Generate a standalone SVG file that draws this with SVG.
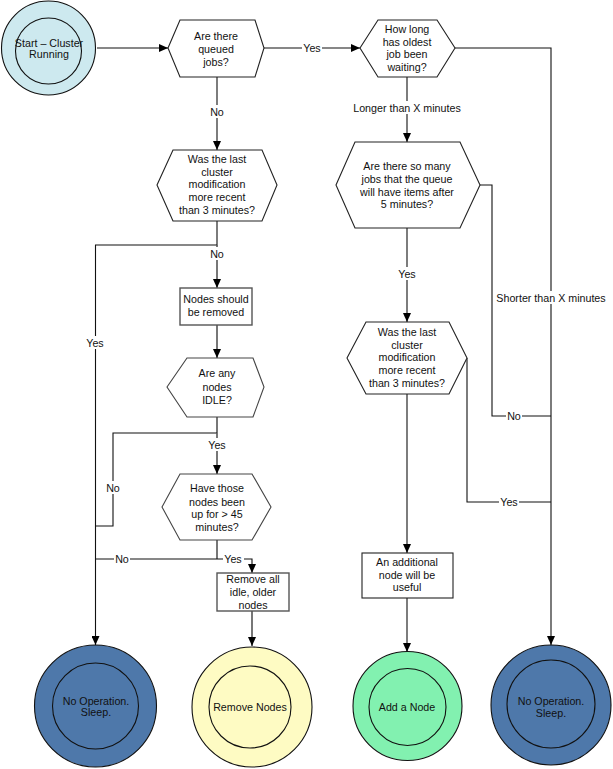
<svg xmlns="http://www.w3.org/2000/svg" width="613" height="769" viewBox="0 0 613 769">
<defs>
<marker id="arr" markerWidth="9" markerHeight="8" refX="9" refY="4" orient="auto" markerUnits="userSpaceOnUse">
<path d="M0,0 L9,4 L0,8 Z" fill="#000"/>
</marker>
<style>
text{font-family:"Liberation Sans",Arial,sans-serif;font-size:10.7px;fill:#111;text-anchor:middle}
.hex,.box{fill:#fff;stroke:#222;stroke-width:1.1}
.g{stroke:#555;stroke-width:1.6}
.c{fill:none;stroke:#111;stroke-width:1.1}
.c.g{stroke:#555;stroke-width:1.6}
.lb{fill:#fff}
.o{stroke:#111;stroke-width:1.1}
</style>
</defs>
<rect width="613" height="769" fill="#fff"/>

<g id="connectors">
<line class="c" x1="97" y1="48" x2="168" y2="48" marker-end="url(#arr)"/>
<line class="c" x1="264" y1="48" x2="360" y2="48" marker-end="url(#arr)"/>
<line class="c" x1="217" y1="77" x2="217" y2="150" marker-end="url(#arr)"/>
<line class="c" x1="407" y1="77" x2="407" y2="142" marker-end="url(#arr)"/>
<path class="c" d="M455,48 H551 V645" marker-end="url(#arr)"/>
<path class="c" d="M480,185 H492 V416 H551"/>
<line class="c" x1="407" y1="228" x2="407" y2="322" marker-end="url(#arr)"/>
<path class="c" d="M467,358 V502 H551"/>
<line class="c" x1="407" y1="394" x2="407" y2="553" marker-end="url(#arr)"/>
<line class="c" x1="407" y1="598" x2="407" y2="652" marker-end="url(#arr)"/>
<path class="c" d="M217,221 V245 H95.5 V645" marker-end="url(#arr)"/>
<line class="c g" x1="217" y1="245" x2="217" y2="288" marker-end="url(#arr)"/>
<line class="c g" x1="217" y1="325" x2="217" y2="358" marker-end="url(#arr)"/>
<path class="c g" d="M217,417 V433"/>
<path class="c" d="M217,433 H113 V526 H95.5"/>
<line class="c g" x1="217" y1="433" x2="217" y2="474" marker-end="url(#arr)"/>
<path class="c g" d="M217,540 V559"/>
<path class="c" d="M217,559 H95.5"/>
<path class="c" d="M217,559 H252 V573" marker-end="url(#arr)"/>
<line class="c g" x1="252" y1="611" x2="252" y2="646" marker-end="url(#arr)"/>

<rect class="lb" x="302" y="42" width="20" height="12"/><text x="312" y="52">Yes</text>
<rect class="lb" x="208" y="105" width="18" height="13"/><text x="217" y="116">No</text>
<rect class="lb" x="352" y="101" width="110" height="13"/><text x="407" y="112">Longer than X minutes</text>
<rect class="lb" x="495" y="291" width="111" height="13"/><text x="551" y="302">Shorter than X minutes</text>
<rect class="lb" x="506" y="410" width="16" height="12"/><text x="514" y="420">No</text>
<rect class="lb" x="397" y="267" width="20" height="13"/><text x="407" y="278">Yes</text>
<rect class="lb" x="499" y="496" width="20" height="12"/><text x="509" y="506">Yes</text>
<rect class="lb" x="85" y="336" width="21" height="13"/><text x="95" y="347">Yes</text>
<rect class="lb" x="208" y="247" width="18" height="13"/><text x="217" y="258">No</text>
<rect class="lb" x="105" y="481" width="17" height="13"/><text x="113" y="492">No</text>
<rect class="lb" x="207" y="438" width="21" height="13"/><text x="217" y="449">Yes</text>
<rect class="lb" x="114" y="553" width="16" height="12"/><text x="122" y="563">No</text>
<rect class="lb" x="223" y="553" width="21" height="12"/><text x="233" y="563">Yes</text>
</g>

<g id="start">
<circle cx="48.5" cy="48" r="47" fill="#cde9ef" class="o"/>
<circle cx="48.5" cy="51" r="33" fill="none" class="o"/>
<text x="49" y="47">Start – Cluster</text>
<text x="49" y="58">Running</text>
</g>

<g id="q-queued">
<polygon class="hex" points="168,48 180,20 255,20 264,48 255,77 180,77"/>
<text x="216" y="40">Are there</text>
<text x="216" y="53">queued</text>
<text x="216" y="66">jobs?</text>
</g>

<g id="q-howlong">
<polygon class="hex" points="360,48 378,20 437,20 455,48 437,77 378,77"/>
<text x="407" y="33">How long</text>
<text x="407" y="46">has oldest</text>
<text x="407" y="58">job been</text>
<text x="407" y="71">waiting?</text>
</g>

<g id="q-manyjobs">
<polygon class="hex" points="336,185 355,142 460,142 480,185 460,228 355,228"/>
<text x="407" y="170">Are there so many</text>
<text x="407" y="183">jobs that the queue</text>
<text x="407" y="196">will have items after</text>
<text x="407" y="208">5 minutes?</text>
</g>

<g id="q-lastmod-right">
<polygon class="hex" points="347,358 366,322 449,322 467,358 449,394 366,394"/>
<text x="407" y="336">Was the last</text>
<text x="407" y="349">cluster</text>
<text x="407" y="361">modification</text>
<text x="407" y="374">more recent</text>
<text x="407" y="387">than 3 minutes?</text>
</g>

<g id="add-box">
<rect class="box" x="362" y="553" width="91" height="45"/>
<text x="407" y="566">An additional</text>
<text x="407" y="579">node will be</text>
<text x="407" y="591">useful</text>
</g>

<g id="q-lastmod-left">
<polygon class="hex" points="157,185 173,150 262,150 277,185 262,221 173,221"/>
<text x="217" y="163">Was the last</text>
<text x="217" y="176">cluster</text>
<text x="217" y="188">modification</text>
<text x="217" y="201">more recent</text>
<text x="217" y="214">than 3 minutes?</text>
</g>

<g id="remove-box">
<rect class="box" x="180" y="288" width="72" height="37" style="stroke:#555;stroke-width:1.4"/>
<text x="216" y="303">Nodes should</text>
<text x="216" y="316">be removed</text>
</g>

<g id="q-idle">
<polygon class="hex" points="167,387 187,358 253,358 264,387 253,417 187,417" style="stroke:#444"/>
<text x="217" y="377">Are any</text>
<text x="217" y="391">nodes</text>
<text x="217" y="404">IDLE?</text>
</g>

<g id="q-uptime">
<polygon class="hex" points="162,507 180,474 252,474 271,507 252,540 180,540" style="stroke:#444"/>
<text x="217" y="492">Have those</text>
<text x="217" y="506">nodes been</text>
<text x="217" y="518">up for &gt; 45</text>
<text x="217" y="531">minutes?</text>
</g>

<g id="remove-older-box">
<rect class="box" x="217" y="573" width="72" height="38" style="stroke:#555;stroke-width:1.4"/>
<text x="253" y="583">Remove all</text>
<text x="253" y="596">idle, older</text>
<text x="253" y="609">nodes</text>
</g>

<g id="noop-left">
<circle cx="95.5" cy="706" r="61" fill="#4e78aa" class="o"/>
<circle cx="95.5" cy="706" r="43" fill="none" class="o"/>
<text x="96" y="705">No Operation.</text>
<text x="96" y="716">Sleep.</text>
</g>

<g id="remove-nodes">
<circle cx="252" cy="707" r="60" fill="#fefbc3" class="o"/>
<circle cx="250" cy="707" r="41" fill="none" class="o"/>
<text x="250" y="711">Remove Nodes</text>
</g>

<g id="add-node">
<circle cx="407.5" cy="706" r="54.5" fill="#82f1b0" class="o"/>
<circle cx="407.5" cy="707" r="38.5" fill="none" class="o"/>
<text x="407" y="711">Add a Node</text>
</g>

<g id="noop-right">
<circle cx="551" cy="705" r="60" fill="#4e78aa" class="o"/>
<circle cx="551" cy="704" r="44" fill="none" class="o"/>
<text x="551" y="705">No Operation.</text>
<text x="551" y="717">Sleep.</text>
</g>
</svg>
